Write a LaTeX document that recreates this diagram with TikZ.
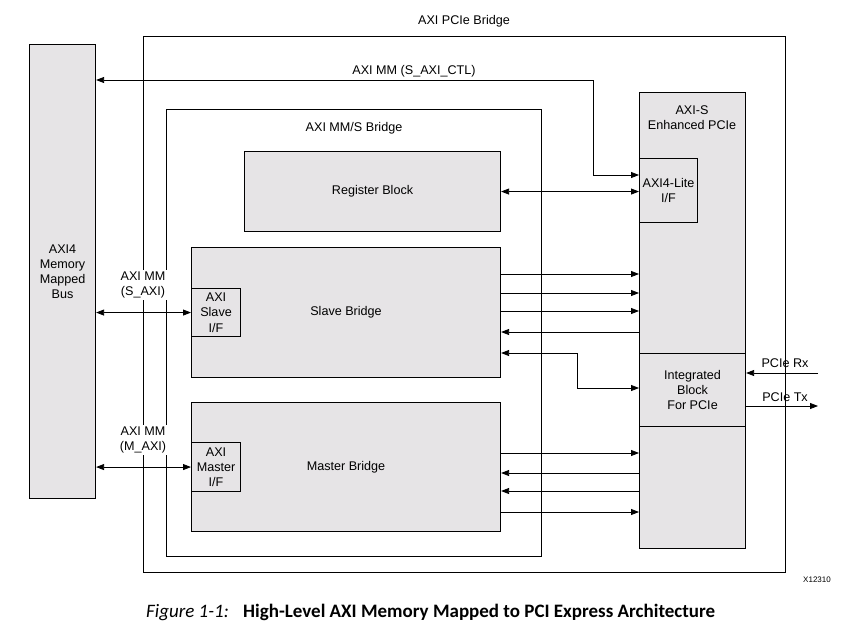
\documentclass[tikz,border=0pt]{standalone}
\usepackage{fontspec}
\setmainfont{Liberation Sans}
\newfontfamily\capfont{Carlito}
\usetikzlibrary{arrows.meta,calc}
\definecolor{boxgray}{HTML}{E6E4E6}
\tikzset{
  frame/.style={draw, line width=1.3pt, anchor=north west, inner sep=0pt},
  block/.style={draw, fill=boxgray, line width=1.1pt, anchor=north west, inner sep=0pt,
    align=center, font=\fontsize{12.6}{15.2}\selectfont},
  link/.style={line width=0.8pt, -{Triangle[length=8pt,width=6pt]}},
  dlink/.style={line width=0.8pt, {Triangle[length=8pt,width=6pt]}-{Triangle[length=8pt,width=6pt]}},
  lab/.style={font=\fontsize{12.6}{15.2}\selectfont, align=center, inner sep=1pt},
  cutlab/.style={lab, fill=white, inner sep=1.5pt}
}

\begin{document}
\begin{tikzpicture}[x=1pt, y=-1pt]
  \useasboundingbox (0,0) rectangle (850,629);

  % outer frames
  \node[frame, minimum width=642pt, minimum height=536pt] (pcie) at (143,36) {};
  \node[lab] (pcietitle) at (464,21) {AXI PCIe Bridge};
  \node[frame, minimum width=375pt, minimum height=447pt] (mms) at (166,109) {};
  \node[lab] (mmstitle) at (354,128) {AXI MM/S Bridge};

  % left bus
  \node[block, minimum width=66pt, minimum height=454pt] (bus) at (29,44)
    {AXI4\\Memory\\Mapped\\Bus};

  % bridge blocks
  \node[block, minimum width=256pt, minimum height=80pt] (reg) at (244,151) {Register Block};
  \node[block, minimum width=309pt, minimum height=130pt] (slave) at (191,247) {Slave Bridge};
  \node[block, minimum width=49pt, minimum height=48pt] (slaveif) at (191,288) {AXI\\Slave\\I/F};
  \node[block, minimum width=309pt, minimum height=129pt] (master) at (191,402) {Master Bridge};
  \node[block, minimum width=49pt, minimum height=49pt] (masterif) at (191,442) {AXI\\Master\\I/F};

  % AXI-S enhanced PCIe
  \node[block, minimum width=106pt, minimum height=456pt] (enh) at (639,92) {};
  \node[lab] (enhtitle) at (692,118) {AXI-S\\Enhanced PCIe};
  \node[block, minimum width=58pt, minimum height=64pt] (lite) at (639,158) {AXI4-Lite\\I/F};
  \node[block, minimum width=106pt, minimum height=73pt] (ib) at (639,353)
    {Integrated\\Block\\For PCIe};

  % control path
  \coordinate (ctlup) at (593,80);
  \draw[dlink] (lite.west |- 0,175) -| (ctlup) -- (bus.east |- ctlup);
  \node[lab] (ctllab) at (414,71) {AXI MM (S\_AXI\_CTL)};
  \draw[dlink] (reg.east) -- (lite.west |- reg.east);

  % AXI MM ports
  \draw[dlink] (bus.east |- slaveif.west) -- (slaveif.west);
  \node[cutlab] (slavelab) at (143,285) {AXI MM\\(S\_AXI)};
  \draw[dlink] (bus.east |- masterif.west) -- (masterif.west);
  \node[cutlab] (masterlab) at (143,440) {AXI MM\\(M\_AXI)};

  % slave bridge streams
  \foreach \y in {274,293,311}
    \draw[link] (slave.east |- 0,\y) -- (enh.west |- 0,\y);
  \draw[link] (enh.west |- 0,332) -- (slave.east |- 0,332);
  \coordinate (ibbend) at (577,388);
  \draw[dlink] (slave.east |- 0,353) -| (ibbend) -- (ib.west |- ibbend);

  % master bridge streams
  \foreach \y in {453,512}
    \draw[link] (master.east |- 0,\y) -- (enh.west |- 0,\y);
  \foreach \y in {473,491}
    \draw[link] (enh.west |- 0,\y) -- (master.east |- 0,\y);

  % serial lanes
  \coordinate (rxin) at (818,373);
  \coordinate (txout) at (818,406);
  \draw[link] (rxin) -- (ib.east |- rxin);
  \draw[link] (ib.east |- txout) -- (txout);
  \node[lab] (rxlab) at (785,363) {PCIe Rx};
  \node[lab] (txlab) at (785,397) {PCIe Tx};

  % figure id and caption
  \node[font=\fontsize{8}{9.6}\selectfont] (figid) at (817,580) {X12310};
  \node[anchor=base west, inner sep=0pt, font=\capfont\fontsize{19}{22}\selectfont\itshape]
    (capnum) at (146,617) {Figure 1-1:};
  \node[anchor=base west, inner sep=0pt, font=\capfont\fontsize{19}{22}\selectfont\bfseries]
    (captext) at (243,617) {High-Level AXI Memory Mapped to PCI Express Architecture};
\end{tikzpicture}
\end{document}
